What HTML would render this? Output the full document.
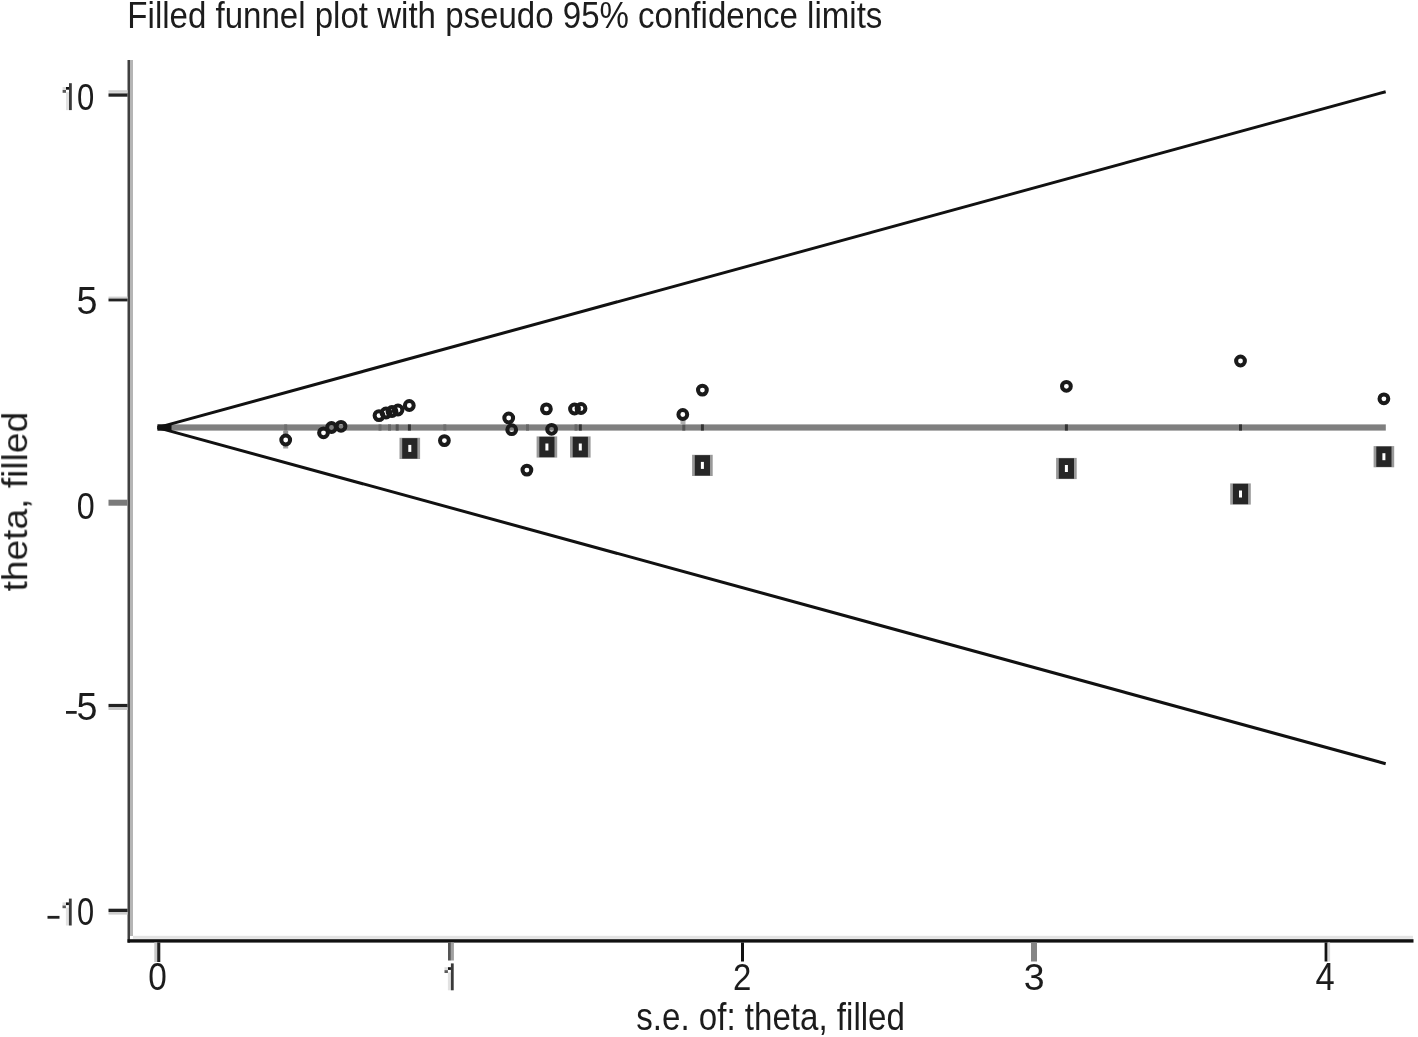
<!DOCTYPE html>
<html><head><meta charset="utf-8"><style>
html,body{margin:0;padding:0;background:#fff;}
svg{display:block;font-family:"Liberation Sans",sans-serif;filter:blur(0.35px);}
text{font-family:"Liberation Sans",sans-serif;}
</style></head><body>
<svg width="1418" height="1037" viewBox="0 0 1418 1037">
<rect width="1418" height="1037" fill="#fff"/>
<g opacity="0.999">
<text transform="matrix(0.33058 0 0 0.36383 127.36 27.66)" x="0" y="0" font-size="100" fill="#1c1c1c" >Filled funnel plot with pseudo 95% confidence limits</text>
<rect x="127.5" y="60" width="2.5" height="882.7" fill="#404040"/>
<rect x="130" y="60" width="3" height="876" fill="#b5b5b5"/>
<rect x="133" y="935.8" width="1280" height="3" fill="#e3e3e3"/>
<rect x="127.5" y="939.2" width="1286" height="3.4" fill="#111"/>
<rect x="108.5" y="90.2" width="19" height="2.6" fill="#d0d0d0"/>
<rect x="108.5" y="93.4" width="19" height="3.3" fill="#222"/>
<rect x="108.5" y="296.6" width="19" height="2.2" fill="#d0d0d0"/>
<rect x="108.5" y="298.6" width="19" height="2.8" fill="#222"/>
<rect x="108.5" y="499.7" width="19" height="6" fill="#7a7a7a"/>
<rect x="108.5" y="703.9" width="19" height="3.4" fill="#222"/>
<rect x="108.5" y="707.3" width="19" height="2.7" fill="#c8c8c8"/>
<rect x="108.5" y="908.7" width="19" height="3.3" fill="#222"/>
<rect x="108.5" y="912.0" width="19" height="2.6" fill="#cccccc"/>
<rect x="154.3" y="942.5" width="2.9" height="19.5" fill="#c8c8c8"/>
<rect x="157.2" y="942.5" width="3.1" height="19.5" fill="#222"/>
<rect x="448" y="942.5" width="2.9" height="18" fill="#555"/>
<rect x="450.9" y="942.5" width="3.0" height="18" fill="#a0a0a0"/>
<rect x="741" y="942.5" width="3.0" height="19" fill="#111"/>
<rect x="1031" y="942.5" width="6" height="19" fill="#858585"/>
<rect x="1324.6" y="942.5" width="3.0" height="19" fill="#111"/>
<rect x="1327.6" y="942.5" width="2.5" height="19" fill="#dadada"/>
<g transform="translate(71.80 83.20)"><rect x="-5.8" y="9" width="3" height="17.9" fill="#e2e2e2"/><rect x="-2.8" y="0" width="2.8" height="26.9" fill="#3a3a3a"/><rect x="-5.8" y="3.8" width="3" height="2.7" fill="#151515"/><rect x="-9.2" y="6.7" width="3.4" height="2.9" fill="#5a5a5a"/><rect x="-9.2" y="3.8" width="3.4" height="2.9" fill="#dddddd"/></g>
<text transform="matrix(0.31042 0 0 0.37746 76.96 109.62)" x="0" y="0" font-size="100" fill="#1c1c1c" >0</text>
<text transform="matrix(0.37660 0 0 0.38286 76.49 314.42)" x="0" y="0" font-size="100" fill="#1c1c1c" >5</text>
<text transform="matrix(0.32292 0 0 0.37746 76.81 519.12)" x="0" y="0" font-size="100" fill="#1c1c1c" >0</text>
<rect x="66.0" y="711.0" width="10.7" height="2.8" fill="#222"/>
<text transform="matrix(0.37660 0 0 0.38143 76.49 720.12)" x="0" y="0" font-size="100" fill="#1c1c1c" >5</text>
<rect x="47.5" y="915.9" width="12.0" height="2.8" fill="#222"/>
<g transform="translate(71.70 898.60)"><rect x="-5.8" y="9" width="3" height="17.9" fill="#e2e2e2"/><rect x="-2.8" y="0" width="2.8" height="26.9" fill="#3a3a3a"/><rect x="-5.8" y="3.8" width="3" height="2.7" fill="#151515"/><rect x="-9.2" y="6.7" width="3.4" height="2.9" fill="#5a5a5a"/><rect x="-9.2" y="3.8" width="3.4" height="2.9" fill="#dddddd"/></g>
<text transform="matrix(0.30833 0 0 0.37887 77.07 925.12)" x="0" y="0" font-size="100" fill="#1c1c1c" >0</text>
<text transform="matrix(0.33333 0 0 0.38028 148.17 989.92)" x="0" y="0" font-size="100" fill="#1c1c1c" >0</text>
<g transform="translate(453.70 963.40)"><rect x="-5.8" y="9" width="3" height="17.9" fill="#e2e2e2"/><rect x="-2.8" y="0" width="2.8" height="26.9" fill="#3a3a3a"/><rect x="-5.8" y="3.8" width="3" height="2.7" fill="#151515"/><rect x="-9.2" y="6.7" width="3.4" height="2.9" fill="#5a5a5a"/><rect x="-9.2" y="3.8" width="3.4" height="2.9" fill="#dddddd"/></g>
<text transform="matrix(0.33043 0 0 0.37429 732.95 990.00)" x="0" y="0" font-size="100" fill="#1c1c1c" >2</text>
<text transform="matrix(0.37447 0 0 0.37465 1023.80 989.63)" x="0" y="0" font-size="100" fill="#1c1c1c" >3</text>
<text transform="matrix(0.34510 0 0 0.39265 1315.51 990.39)" x="0" y="0" font-size="100" fill="#1c1c1c" >4</text>
<text transform="matrix(0.33105 0 0 0.38837 636.31 1029.55)" x="0" y="0" font-size="100" fill="#1c1c1c" >s.e. of: theta, filled</text>
<text transform="matrix(0 -0.37137 0.34302 0 27.04 591.44)" x="0" y="0" font-size="100" fill="#1c1c1c">theta, filled</text>
<rect x="157.5" y="424.4" width="1228.3" height="6.2" fill="#7f7f7f"/>
<line x1="157.5" y1="427.6" x2="1385.7" y2="91.7" stroke="#111" stroke-width="3"/>
<line x1="157.5" y1="427.6" x2="1385.7" y2="763.7" stroke="#111" stroke-width="3"/>
<rect x="157.5" y="424.4" width="14" height="6.2" fill="#111"/>
<rect x="1064.9" y="424.4" width="3" height="6.2" fill="#333"/>
<rect x="1239.0" y="424.4" width="3" height="6.2" fill="#333"/>
<rect x="700.9" y="424.4" width="3" height="6.2" fill="#333"/>
<rect x="682.3" y="424.4" width="3" height="6.2" fill="#555"/>
<rect x="578.8" y="424.4" width="3" height="6.2" fill="#333"/>
<rect x="574.5" y="424.4" width="3" height="6.2" fill="#666"/>
<rect x="526.0" y="424.4" width="3" height="6.2" fill="#666"/>
<rect x="407.9" y="424.4" width="3" height="6.2" fill="#333"/>
<rect x="395.7" y="424.4" width="3" height="6.2" fill="#555"/>
<rect x="388.0" y="424.4" width="3" height="6.2" fill="#666"/>
<rect x="378.5" y="424.4" width="3" height="6.2" fill="#6a6a6a"/>
<rect x="443.3" y="424.4" width="3" height="6.2" fill="#6e6e6e"/>
<rect x="284.2" y="424.4" width="3" height="6.2" fill="#6e6e6e"/>
<rect x="283.2" y="430.6" width="5" height="4" fill="#909090"/>
<rect x="283.2" y="445.5" width="5" height="3" fill="#a0a0a0"/>
<rect x="680.5" y="420" width="5" height="4.4" fill="#b0b0b0"/>
<rect x="399.5" y="437.8" width="20.6" height="21.2" fill="#9a9a9a"/>
<rect x="402.2" y="438.2" width="15.2" height="20.4" fill="#262626"/>
<rect x="408.3" y="444.9" width="3" height="7" fill="#fff"/>
<rect x="536.6" y="436.4" width="20.6" height="21.2" fill="#9a9a9a"/>
<rect x="539.3" y="436.8" width="15.2" height="20.4" fill="#262626"/>
<rect x="545.4" y="443.5" width="3" height="7" fill="#fff"/>
<rect x="570.0" y="436.4" width="20.6" height="21.2" fill="#9a9a9a"/>
<rect x="572.7" y="436.8" width="15.2" height="20.4" fill="#262626"/>
<rect x="578.8" y="443.5" width="3" height="7" fill="#fff"/>
<rect x="692.1" y="454.8" width="20.6" height="21.2" fill="#9a9a9a"/>
<rect x="694.8" y="455.2" width="15.2" height="20.4" fill="#262626"/>
<rect x="700.9" y="461.9" width="3" height="7" fill="#fff"/>
<rect x="1056.1" y="457.9" width="20.6" height="21.2" fill="#9a9a9a"/>
<rect x="1058.8" y="458.3" width="15.2" height="20.4" fill="#262626"/>
<rect x="1064.9" y="465.0" width="3" height="7" fill="#fff"/>
<rect x="1230.2" y="483.4" width="20.6" height="21.2" fill="#9a9a9a"/>
<rect x="1232.9" y="483.8" width="15.2" height="20.4" fill="#262626"/>
<rect x="1239.0" y="490.5" width="3" height="7" fill="#fff"/>
<rect x="1373.6" y="446.1" width="20.6" height="21.2" fill="#9a9a9a"/>
<rect x="1376.3" y="446.5" width="15.2" height="20.4" fill="#262626"/>
<rect x="1382.4" y="453.2" width="3" height="7" fill="#fff"/>
<circle cx="285.7" cy="440" r="4.4" fill="none" stroke="#1a1a1a" stroke-width="4"/>
<circle cx="323.5" cy="432.8" r="4.4" fill="none" stroke="#1a1a1a" stroke-width="4"/>
<circle cx="331.5" cy="427.5" r="4.4" fill="none" stroke="#1a1a1a" stroke-width="4"/>
<circle cx="341" cy="426.3" r="4.4" fill="none" stroke="#1a1a1a" stroke-width="4"/>
<circle cx="379" cy="415.6" r="4.4" fill="none" stroke="#1a1a1a" stroke-width="4"/>
<circle cx="386" cy="413" r="4.4" fill="none" stroke="#1a1a1a" stroke-width="4"/>
<circle cx="392" cy="411.5" r="4.4" fill="none" stroke="#1a1a1a" stroke-width="4"/>
<circle cx="398" cy="410" r="4.4" fill="none" stroke="#1a1a1a" stroke-width="4"/>
<circle cx="409.3" cy="405.5" r="4.4" fill="none" stroke="#1a1a1a" stroke-width="4"/>
<circle cx="444.4" cy="440.6" r="4.4" fill="none" stroke="#1a1a1a" stroke-width="4"/>
<circle cx="508.7" cy="418" r="4.4" fill="none" stroke="#1a1a1a" stroke-width="4"/>
<circle cx="511.7" cy="429.7" r="4.4" fill="none" stroke="#1a1a1a" stroke-width="4"/>
<circle cx="526.9" cy="470.1" r="4.4" fill="none" stroke="#1a1a1a" stroke-width="4"/>
<circle cx="546.4" cy="408.9" r="4.4" fill="none" stroke="#1a1a1a" stroke-width="4"/>
<circle cx="551.6" cy="429.3" r="4.4" fill="none" stroke="#1a1a1a" stroke-width="4"/>
<circle cx="574.5" cy="409" r="4.4" fill="none" stroke="#1a1a1a" stroke-width="4"/>
<circle cx="581" cy="408.5" r="4.4" fill="none" stroke="#1a1a1a" stroke-width="4"/>
<circle cx="682.8" cy="414.5" r="4.4" fill="none" stroke="#1a1a1a" stroke-width="4"/>
<circle cx="702.4" cy="390.1" r="4.4" fill="none" stroke="#1a1a1a" stroke-width="4"/>
<circle cx="1066.4" cy="386.3" r="4.4" fill="none" stroke="#1a1a1a" stroke-width="4"/>
<circle cx="1240.5" cy="361" r="4.4" fill="none" stroke="#1a1a1a" stroke-width="4"/>
<circle cx="1383.9" cy="398.8" r="4.4" fill="none" stroke="#1a1a1a" stroke-width="4"/>
</g>
</svg>
</body></html>
